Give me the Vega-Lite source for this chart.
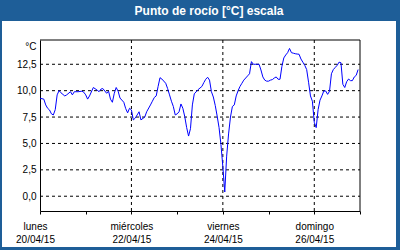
{
  "$schema": "https://vega.github.io/schema/vega-lite/v6.json",
  "autosize": "none",
  "width": 394,
  "height": 226,
  "padding": {"left": 2, "top": 21, "right": 4, "bottom": 3},
  "background": "#1e5e98",
  "title": {
    "text": "Punto de rocío [°C] escala",
    "color": "white",
    "font": "Liberation Sans",
    "fontSize": 12,
    "fontWeight": "bold",
    "anchor": "middle",
    "frame": "group",
    "dx": 10,
    "dy": 12,
    "baseline": "alphabetic",
    "offset": 6
  },
  "config": {
    "view": {"fill": "white", "stroke": null},
    "axis": {"labelFont": "Liberation Sans", "labelFontSize": 10, "labelColor": "black", "titleFont": "Liberation Sans", "titleColor": "black"}
  },
  "layer": [
    {
      "data": {"values": [{"v": 0}, {"v": 2.5}, {"v": 5}, {"v": 7.5}, {"v": 10}, {"v": 12.5}]},
      "mark": {"type": "rule", "color": "black", "strokeWidth": 1, "strokeDash": [3, 3]},
      "encoding": {
        "y": {"field": "v", "type": "quantitative"},
        "x": {"datum": {"year": 2015, "month": 4, "date": 20}, "type": "temporal"},
        "x2": {"datum": {"year": 2015, "month": 4, "date": 27}}
      }
    },
    {
      "data": {"values": [{"t": "2015-04-22T00:00"}, {"t": "2015-04-24T00:00"}, {"t": "2015-04-26T00:00"}]},
      "mark": {"type": "rule", "color": "black", "strokeWidth": 1, "strokeDash": [3, 3]},
      "encoding": {
        "x": {"field": "t", "type": "temporal"},
        "y": {"datum": -1.4, "type": "quantitative"},
        "y2": {"datum": 14.8}
      }
    },
    {
      "data": {"values": [{"v": 14.8}]},
      "mark": {"type": "rule", "color": "black", "strokeWidth": 1},
      "encoding": {
        "y": {"field": "v", "type": "quantitative"},
        "x": {"datum": {"year": 2015, "month": 4, "date": 20}, "type": "temporal"},
        "x2": {"datum": {"year": 2015, "month": 4, "date": 27}}
      }
    },
    {
      "data": {"values": [{"t": "2015-04-27T00:00"}]},
      "mark": {"type": "rule", "color": "black", "strokeWidth": 1},
      "encoding": {
        "x": {"field": "t", "type": "temporal"},
        "y": {"datum": -1.4, "type": "quantitative"},
        "y2": {"datum": 14.8}
      }
    },
    {
      "data": {
        "values": [
          {"t": "2015-04-20T00:00", "v": 9.28}, {"t": "2015-04-20T02:00", "v": 9.2}, {"t": "2015-04-20T03:00", "v": 8.65}, {"t": "2015-04-20T04:00", "v": 8.33}, {"t": "2015-04-20T05:00", "v": 8.17}, {"t": "2015-04-20T06:00", "v": 7.8}, {"t": "2015-04-20T07:00", "v": 7.7}, {"t": "2015-04-20T08:00", "v": 8.2}, {"t": "2015-04-20T09:00", "v": 9.6}, {"t": "2015-04-20T10:00", "v": 10.0}, {"t": "2015-04-20T11:00", "v": 9.8}, {"t": "2015-04-20T13:00", "v": 9.5}, {"t": "2015-04-20T14:00", "v": 9.6}, {"t": "2015-04-20T16:00", "v": 9.9}, {"t": "2015-04-20T17:00", "v": 9.6}, {"t": "2015-04-20T18:00", "v": 9.9}, {"t": "2015-04-20T20:00", "v": 9.9}, {"t": "2015-04-20T22:00", "v": 9.95}, {"t": "2015-04-20T23:00", "v": 9.85},
          {"t": "2015-04-21T00:00", "v": 9.6}, {"t": "2015-04-21T01:00", "v": 9.2}, {"t": "2015-04-21T02:00", "v": 9.5}, {"t": "2015-04-21T04:00", "v": 10.3}, {"t": "2015-04-21T06:00", "v": 10.05}, {"t": "2015-04-21T07:00", "v": 9.9}, {"t": "2015-04-21T08:00", "v": 10.15}, {"t": "2015-04-21T09:00", "v": 10.2}, {"t": "2015-04-21T11:00", "v": 9.75}, {"t": "2015-04-21T12:00", "v": 9.95}, {"t": "2015-04-21T13:00", "v": 9.2}, {"t": "2015-04-21T14:00", "v": 8.9}, {"t": "2015-04-21T15:00", "v": 9.75}, {"t": "2015-04-21T16:00", "v": 10.3}, {"t": "2015-04-21T17:00", "v": 9.95}, {"t": "2015-04-21T18:00", "v": 9.3}, {"t": "2015-04-21T20:00", "v": 8.9}, {"t": "2015-04-21T21:00", "v": 8.3}, {"t": "2015-04-21T22:00", "v": 7.9}, {"t": "2015-04-21T23:00", "v": 8.33},
          {"t": "2015-04-22T00:00", "v": 8.17}, {"t": "2015-04-22T01:00", "v": 7.23}, {"t": "2015-04-22T02:00", "v": 7.4}, {"t": "2015-04-22T03:00", "v": 7.7}, {"t": "2015-04-22T04:00", "v": 8.0}, {"t": "2015-04-22T05:00", "v": 7.23}, {"t": "2015-04-22T07:00", "v": 7.5}, {"t": "2015-04-22T08:00", "v": 8.0}, {"t": "2015-04-22T10:00", "v": 8.65}, {"t": "2015-04-22T11:00", "v": 9.0}, {"t": "2015-04-22T12:00", "v": 9.35}, {"t": "2015-04-22T13:00", "v": 9.5}, {"t": "2015-04-22T14:00", "v": 10.4}, {"t": "2015-04-22T15:00", "v": 11.23}, {"t": "2015-04-22T16:00", "v": 11.1}, {"t": "2015-04-22T18:00", "v": 10.7}, {"t": "2015-04-22T19:00", "v": 10.2}, {"t": "2015-04-22T20:00", "v": 9.6}, {"t": "2015-04-22T21:00", "v": 9.0}, {"t": "2015-04-22T22:00", "v": 8.5}, {"t": "2015-04-22T23:00", "v": 7.7},
          {"t": "2015-04-23T00:00", "v": 7.8}, {"t": "2015-04-23T01:00", "v": 8.0}, {"t": "2015-04-23T02:00", "v": 8.74}, {"t": "2015-04-23T03:00", "v": 8.33}, {"t": "2015-04-23T04:00", "v": 7.54}, {"t": "2015-04-23T05:00", "v": 6.5}, {"t": "2015-04-23T06:00", "v": 5.7}, {"t": "2015-04-23T07:00", "v": 6.4}, {"t": "2015-04-23T08:00", "v": 8.65}, {"t": "2015-04-23T09:00", "v": 9.7}, {"t": "2015-04-23T11:00", "v": 10.1}, {"t": "2015-04-23T13:00", "v": 10.4}, {"t": "2015-04-23T14:00", "v": 10.76}, {"t": "2015-04-23T15:00", "v": 11.08}, {"t": "2015-04-23T16:00", "v": 11.27}, {"t": "2015-04-23T17:00", "v": 11.0}, {"t": "2015-04-23T18:00", "v": 9.9}, {"t": "2015-04-23T19:00", "v": 9.4}, {"t": "2015-04-23T20:00", "v": 8.6}, {"t": "2015-04-23T21:00", "v": 7.6}, {"t": "2015-04-23T22:00", "v": 6.5}, {"t": "2015-04-23T23:00", "v": 4.9},
          {"t": "2015-04-24T00:00", "v": 2.8}, {"t": "2015-04-24T01:00", "v": 0.4}, {"t": "2015-04-24T02:00", "v": 3.8}, {"t": "2015-04-24T03:00", "v": 5.9}, {"t": "2015-04-24T04:00", "v": 7.5}, {"t": "2015-04-24T05:00", "v": 8.5}, {"t": "2015-04-24T06:00", "v": 8.65}, {"t": "2015-04-24T07:00", "v": 9.5}, {"t": "2015-04-24T08:00", "v": 10.0}, {"t": "2015-04-24T09:00", "v": 10.4}, {"t": "2015-04-24T10:00", "v": 10.7}, {"t": "2015-04-24T11:00", "v": 11.0}, {"t": "2015-04-24T12:00", "v": 11.2}, {"t": "2015-04-24T13:00", "v": 11.4}, {"t": "2015-04-24T14:00", "v": 11.6}, {"t": "2015-04-24T15:00", "v": 12.75}, {"t": "2015-04-24T16:00", "v": 12.5}, {"t": "2015-04-24T17:00", "v": 12.5}, {"t": "2015-04-24T18:00", "v": 12.5}, {"t": "2015-04-24T19:00", "v": 12.5}, {"t": "2015-04-24T20:00", "v": 11.96}, {"t": "2015-04-24T21:00", "v": 11.3}, {"t": "2015-04-24T22:00", "v": 11.0}, {"t": "2015-04-24T23:00", "v": 10.9},
          {"t": "2015-04-25T00:00", "v": 10.9}, {"t": "2015-04-25T01:00", "v": 11.0}, {"t": "2015-04-25T02:00", "v": 11.05}, {"t": "2015-04-25T03:00", "v": 11.2}, {"t": "2015-04-25T04:00", "v": 11.3}, {"t": "2015-04-25T05:00", "v": 11.08}, {"t": "2015-04-25T06:00", "v": 11.08}, {"t": "2015-04-25T07:00", "v": 12.3}, {"t": "2015-04-25T08:00", "v": 13.1}, {"t": "2015-04-25T09:00", "v": 13.38}, {"t": "2015-04-25T10:00", "v": 13.6}, {"t": "2015-04-25T11:00", "v": 14.0}, {"t": "2015-04-25T12:00", "v": 13.6}, {"t": "2015-04-25T13:00", "v": 13.55}, {"t": "2015-04-25T14:00", "v": 13.5}, {"t": "2015-04-25T15:00", "v": 13.47}, {"t": "2015-04-25T16:00", "v": 13.45}, {"t": "2015-04-25T17:00", "v": 13.0}, {"t": "2015-04-25T18:00", "v": 12.7}, {"t": "2015-04-25T19:00", "v": 12.4}, {"t": "2015-04-25T20:00", "v": 12.0}, {"t": "2015-04-25T21:00", "v": 10.8}, {"t": "2015-04-25T22:00", "v": 9.5}, {"t": "2015-04-25T23:00", "v": 9.0},
          {"t": "2015-04-26T00:00", "v": 7.0}, {"t": "2015-04-26T01:00", "v": 6.5}, {"t": "2015-04-26T02:00", "v": 8.2}, {"t": "2015-04-26T03:00", "v": 9.1}, {"t": "2015-04-26T04:00", "v": 9.5}, {"t": "2015-04-26T05:00", "v": 9.97}, {"t": "2015-04-26T06:00", "v": 9.97}, {"t": "2015-04-26T07:00", "v": 9.65}, {"t": "2015-04-26T08:00", "v": 9.95}, {"t": "2015-04-26T09:00", "v": 11.6}, {"t": "2015-04-26T10:00", "v": 12.0}, {"t": "2015-04-26T11:00", "v": 12.2}, {"t": "2015-04-26T12:00", "v": 12.4}, {"t": "2015-04-26T13:00", "v": 12.7}, {"t": "2015-04-26T14:00", "v": 12.65}, {"t": "2015-04-26T15:00", "v": 10.6}, {"t": "2015-04-26T16:00", "v": 10.3}, {"t": "2015-04-26T17:00", "v": 10.85}, {"t": "2015-04-26T18:00", "v": 11.1}, {"t": "2015-04-26T19:00", "v": 10.95}, {"t": "2015-04-26T20:00", "v": 10.95}, {"t": "2015-04-26T21:00", "v": 11.3}, {"t": "2015-04-26T22:00", "v": 11.45}, {"t": "2015-04-26T23:00", "v": 12.0}
        ]
      },
      "mark": {"type": "line", "color": "#0000ff", "strokeWidth": 1},
      "encoding": {
        "x": {
          "field": "t",
          "type": "temporal",
          "scale": {
            "domain": [{"year": 2015, "month": 4, "date": 20}, {"year": 2015, "month": 4, "date": 27}],
            "range": [38, 358]
          },
          "axis": {
            "orient": "bottom",
            "offset": -36,
            "title": null,
            "values": [
              {"year": 2015, "month": 4, "date": 20}, {"year": 2015, "month": 4, "date": 21},
              {"year": 2015, "month": 4, "date": 22}, {"year": 2015, "month": 4, "date": 23},
              {"year": 2015, "month": 4, "date": 24}, {"year": 2015, "month": 4, "date": 25},
              {"year": 2015, "month": 4, "date": 26}, {"year": 2015, "month": 4, "date": 27}
            ],
            "grid": false,
            "domainColor": "black",
            "domainWidth": 1,
            "tickColor": "black",
            "tickSize": 3,
            "labelPadding": 7,
            "labelFlush": false,
            "labelOverlap": false,
            "labelBound": false,
            "labelAlign": "center",
            "labelBaseline": "top",
            "labelLineHeight": 13,
            "labelOffset": {"condition": {"test": "date(datum.value) == 20", "value": -5}, "value": 0},
            "labelExpr": "date(datum.value) % 2 == 0 && date(datum.value) < 27 ? [['domingo','lunes','martes','miércoles','jueves','viernes','sábado'][day(datum.value)], timeFormat(datum.value, '%d/%m/%y')] : ''"
          }
        },
        "y": {
          "field": "v",
          "type": "quantitative",
          "scale": {"domain": [-1.4, 14.8], "range": [190, 19], "nice": false, "zero": false},
          "axis": {
            "orient": "left",
            "offset": -38,
            "title": "°C",
            "titleAngle": 0,
            "titleAlign": "right",
            "titleBaseline": "alphabetic",
            "titleX": -4,
            "titleY": 28,
            "titleFontSize": 10,
            "titleFontWeight": "normal",
            "values": [0, 2.5, 5, 7.5, 10, 12.5],
            "grid": false,
            "domainColor": "black",
            "domainWidth": 1,
            "ticks": false,
            "tickSize": 0,
            "labelPadding": 4,
            "labelBound": false,
            "labelFlush": false,
            "labelOverlap": false,
            "labelExpr": "replace(format(datum.value, '.1f'), '.', ',')"
          }
        }
      }
    }
  ]
}
